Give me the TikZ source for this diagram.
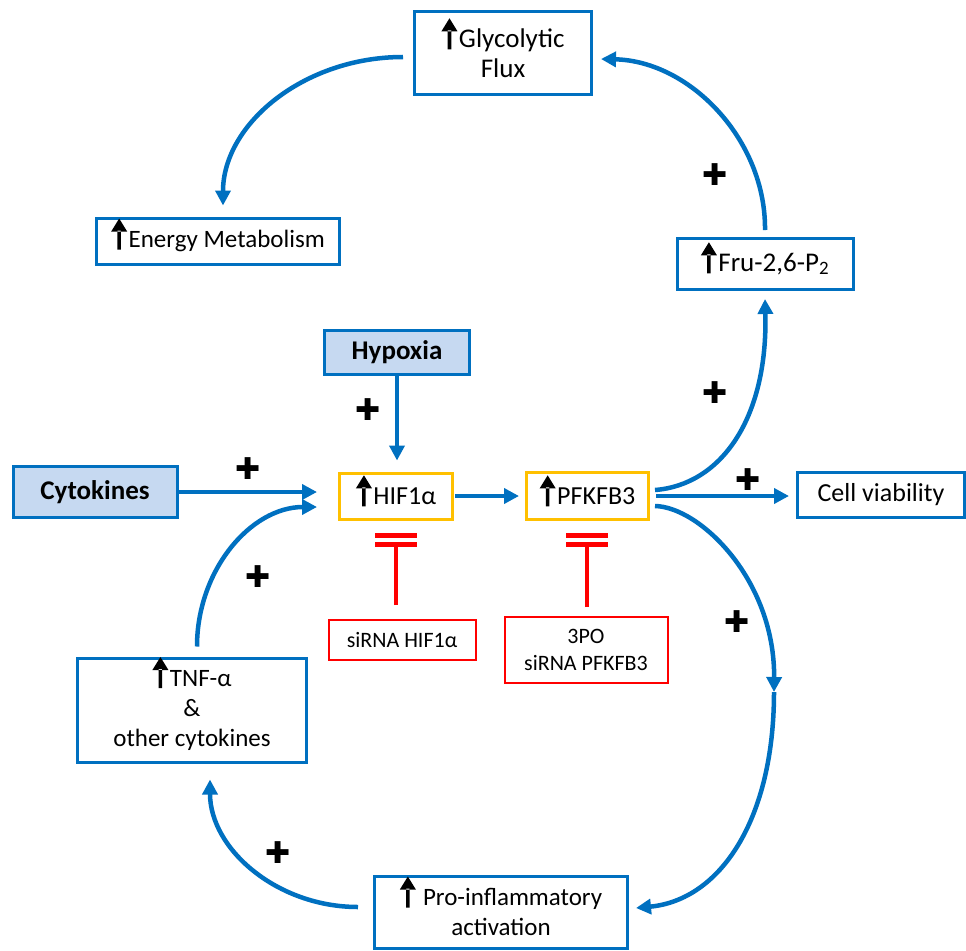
\documentclass[tikz,border=0pt]{standalone}
\usepackage{fontspec}
\setmainfont{Carlito}
\newfontfamily\symfont{DejaVu Sans}
\usetikzlibrary{arrows.meta,positioning}
\definecolor{pathblue}{HTML}{0070C0}
\definecolor{stimfill}{HTML}{C6D9F1}
\definecolor{hubgold}{HTML}{FFC000}
\definecolor{inhred}{HTML}{FF0000}
\newcommand{\upar}{\smash{\tikz[baseline=0pt,x=1pt,y=1pt]{\fill[black](-1.8,-2) rectangle (1.8,17) (-8,16)--(8,16)--(0,29)--cycle;}}\hspace{1.5pt}}
\tikzset{
  bbox/.style={rectangle, draw=pathblue, line width=3pt, fill=white, align=center,
               font=\fontsize{25}{30}\selectfont, inner sep=0pt},
  sbox/.style={bbox, fill=stimfill, font=\fontsize{27}{30}\selectfont\bfseries},
  hbox/.style={bbox, draw=hubgold},
  rbox/.style={bbox, draw=inhred, line width=2pt, font=\fontsize{22}{27}\selectfont},
  flow/.style={-{Triangle[length=15pt,width=15pt]}, line width=4.5pt, pathblue},
  inh/.style={line width=4.5pt, inhred},
  plusmark/.style={font=\symfont\fontsize{30}{30}\selectfont, inner sep=0pt},
}
\begin{document}
\begin{tikzpicture}[x=1pt,y=-1pt]
        \fill[white](0,0) rectangle (966,950);
        \node[bbox, minimum width=177pt, minimum height=83pt, font=\fontsize{27}{30}\selectfont](glyco) at (503,53){\upar Glycolytic\\Flux};
        \node[bbox, minimum width=243pt, minimum height=46pt](energy) at (218,241){\upar Energy Metabolism};
        \node[bbox, minimum width=176pt, minimum height=51pt, font=\fontsize{27}{30}\selectfont](fru) at (765,264){\upar Fru-2,6-P\textsubscript{2}};
        \node[sbox, minimum width=145pt, minimum height=44pt](hypoxia) at (397,352){Hypoxia};
        \node[sbox, minimum width=164pt, minimum height=51pt](cyto) at (95,492){Cytokines};
        \node[hbox, minimum width=113pt, minimum height=46pt, font=\fontsize{26}{30}\selectfont](hif) at (396,496){\upar HIF1α};
        \node[hbox, minimum width=122pt, minimum height=47pt, font=\fontsize{26}{30}\selectfont, right=71pt of hif](pfk){\upar PFKFB3};
        \node[bbox, minimum width=167pt, minimum height=45pt, font=\fontsize{26}{30}\selectfont](cell) at (881,495){Cell viability};
        \node[rbox, minimum width=147pt, minimum height=40pt](sihif) at (402,640){siRNA HIF1α};
        \node[rbox, minimum width=163pt, minimum height=66pt](sipfk) at (586,650){3PO\\siRNA PFKFB3};
        \node[bbox, minimum width=229pt, minimum height=104pt](tnf) at (192,710){\upar TNF-α\\\&\\other cytokines};
        \node[bbox, minimum width=253pt, minimum height=72pt](pro) at (501,912){\upar\ Pro-inflammatory\\activation};
        \foreach \px/\py [count=\k] in {715/175,715/393,248/469,368/410,748/480,258/577,737/622,278/853}
            \node[plusmark](plus\k) at (\px,\py){✚};
        \draw[flow, shorten >=11pt](hypoxia)--(hypoxia |- hif.north);
        \draw[flow, shorten >=21pt](cyto)--(cyto -| hif.west);
        \draw[flow, shorten <=1pt, shorten >=6pt](hif)--(pfk);
        \draw[flow, shorten <=6pt, shorten >=7pt](pfk)--(pfk -| cell.west);
        \draw[flow]([xshift=5pt,yshift=6pt]pfk.east) .. controls (720,485) and (768,420) .. ([yshift=-8pt]fru.south);
        \draw[flow]([yshift=7pt]fru.north) .. controls (766,140) and (690,61) .. ([xshift=8pt,yshift=-6pt]glyco.east);
        \draw[flow]([xshift=-10pt,yshift=-4pt]glyco.west) .. controls (304,57) and (223,124) .. ([xshift=5pt,yshift=11pt]energy.north);
        \coordinate (turn) at (774,692);
        \draw[flow]([xshift=5pt,yshift=-10pt]pfk.east) .. controls (700,507) and (775,580) .. (turn);
        \draw[flow](turn) .. controls (774,820) and (720,900) .. ([xshift=7pt,yshift=4pt]pro.east);
        \draw[flow]([xshift=-15pt,yshift=5pt]pro.west) .. controls (277,907) and (210,849) .. ([xshift=18pt,yshift=-16pt]tnf.south);
        \draw[flow]([xshift=5pt,yshift=10pt]tnf.north) .. controls (197,570) and (251,507) .. ([xshift=-21pt,yshift=-11pt]hif.west);
        \coordinate (hifbar) at (396,544);
        \coordinate (pfkbar) at (587,544);
        \draw[inh, shorten <=14pt](hifbar |- sihif.north)--(hifbar);
        \draw[inh, shorten <=9pt](pfkbar |- sipfk.north)--(pfkbar);
        \foreach \b in {hifbar,pfkbar}
            \foreach \dy in {0,8.5}
                \draw[inh, line width=5pt]([xshift=-21pt,yshift=\dy pt]\b)--([xshift=21pt,yshift=\dy pt]\b);
    \end{tikzpicture}
\end{document}
